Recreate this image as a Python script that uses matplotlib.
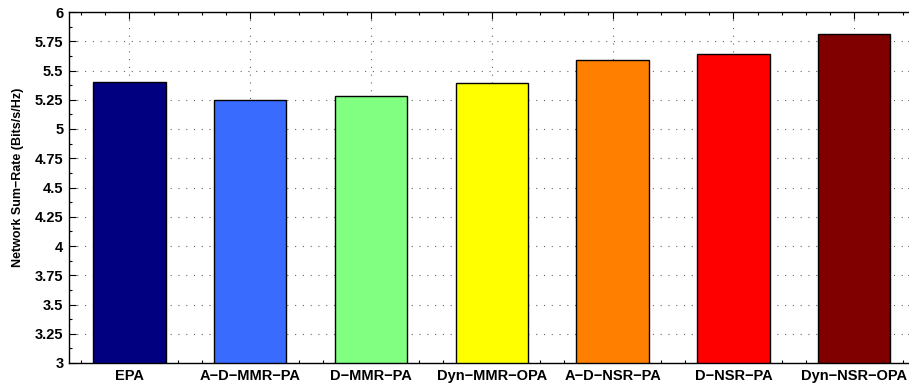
import matplotlib
matplotlib.use("Agg")
import matplotlib.pyplot as plt
from matplotlib.ticker import MultipleLocator, FuncFormatter

schemes = ["EPA", "A\u2212D\u2212MMR\u2212PA", "D\u2212MMR\u2212PA", "Dyn\u2212MMR\u2212OPA",
           "A\u2212D\u2212NSR\u2212PA", "D\u2212NSR\u2212PA", "Dyn\u2212NSR\u2212OPA"]
sum_rate = [5.405, 5.25, 5.285, 5.39, 5.59, 5.64, 5.81]
bar_colors = ["#000080", "#3a6bff", "#80ff80", "#ffff00", "#ff8000", "#ff0000", "#800000"]

plt.rcParams["font.family"] = ["Liberation Sans", "DejaVu Sans"]
plt.rcParams["font.weight"] = "bold"

W, H = 909, 388
fig = plt.figure(figsize=(W / 100, H / 100), dpi=100)
left, right, top, bottom = 69, 914.6, 12, 363
ax = fig.add_axes([left / W, 1 - bottom / H, (right - left) / W, (bottom - top) / H])

pos = list(range(1, len(schemes) + 1))
ax.bar(pos, [v - 3 for v in sum_rate], bottom=3, width=0.6, color=bar_colors,
       edgecolor="black", linewidth=1.0, zorder=3)

ax.set_xlim(0.5, 7.5)
ax.set_ylim(3, 6)
ax.set_xticks(pos)
ax.set_xticklabels(schemes, fontsize=10.5, fontweight="bold")
ax.xaxis.set_minor_locator(MultipleLocator(0.2))
ax.yaxis.set_major_locator(MultipleLocator(0.25))
ax.yaxis.set_minor_locator(MultipleLocator(0.125))
ax.yaxis.set_major_formatter(FuncFormatter(lambda v, p: "%g" % v))
ax.tick_params(axis="both", which="major", direction="in", length=5, width=0.8,
               top=True, right=True, labelsize=10.5, pad=4)
ax.tick_params(axis="both", which="minor", direction="in", length=2.5, width=0.8,
               top=True, right=True)
for lbl in ax.get_yticklabels():
    lbl.set_fontweight("bold")
ax.grid(True, which="major", linestyle=(0, (1, 6)), color="#666666", linewidth=0.8, zorder=0)
ax.set_axisbelow(True)
for s in ax.spines.values():
    s.set_linewidth(1.0)

ax.set_ylabel("Network Sum\u2212Rate (Bits/s/Hz)", fontsize=9, fontweight="bold")
ax.yaxis.set_label_coords((24 - left) / (right - left), (bottom - 177) / (bottom - top))

fig.savefig("out.png", dpi=100)
